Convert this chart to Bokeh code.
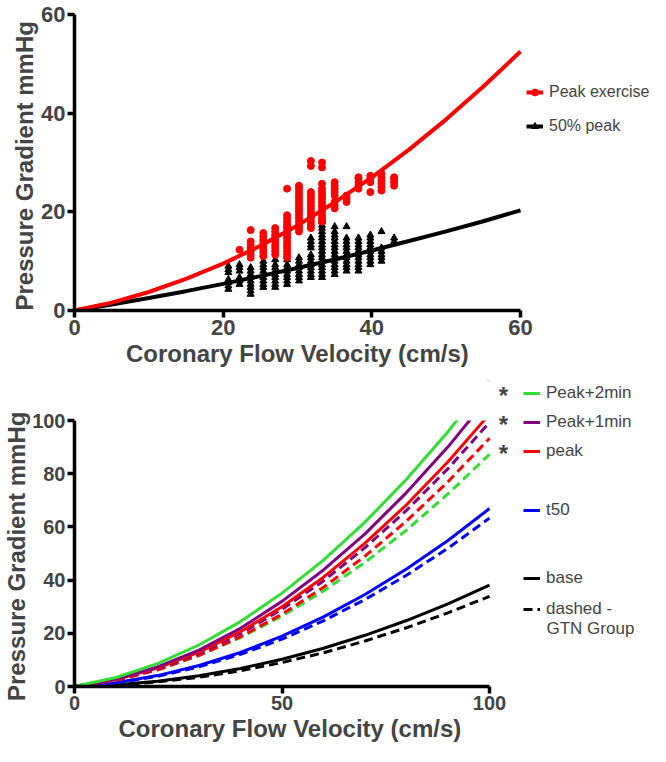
from bokeh.plotting import figure
from bokeh.layouts import column
from bokeh.models import Range1d, Legend, LegendItem, Label, Title, BoxAnnotation
from bokeh.embed import file_html
from bokeh.resources import INLINE

# ---------------- top panel data ----------------
flow_cols = [20.7, 22.2, 23.7, 25.4, 27.0, 28.6, 30.2, 31.8, 33.3, 35.0, 36.6, 38.2, 39.8, 41.3, 43.0]
peak_pg = [
    [],
    [12.3],
    [10.7, 11.3, 12.0, 12.7, 13.3, 14.0, 16.3],
    [11.0, 11.7, 12.3, 13.0, 13.7, 14.3, 15.0, 15.7],
    [11.3, 12.0, 12.7, 13.3, 14.0, 14.7, 15.3, 16.0, 16.7],
    [10.7, 11.3, 12.0, 12.7, 13.3, 14.0, 14.7, 15.3, 16.0, 16.7, 17.3, 18.0, 18.7, 19.3, 24.7],
    [16.0, 16.7, 17.3, 18.0, 18.7, 19.3, 20.0, 20.7, 21.3, 22.0, 22.7, 23.3, 24.0, 24.7, 25.3],
    [16.7, 17.3, 18.0, 18.7, 19.3, 20.0, 20.7, 21.3, 22.0, 22.7, 23.3, 24.0, 29.3, 30.3],
    [18.0, 18.7, 19.3, 20.0, 20.7, 21.3, 22.0, 22.7, 23.3, 24.0, 24.7, 25.7, 29.0, 30.0],
    [20.7, 21.3, 22.0, 23.3, 24.0, 24.7, 25.3, 26.0],
    [22.0, 22.7, 23.3],
    [24.7, 25.3, 26.0, 26.7, 27.0],
    [24.0, 26.0, 26.7, 27.3],
    [24.3, 25.0, 25.7, 26.3, 27.0, 27.7],
    [25.3, 26.0, 26.7, 27.0],
]
half_pg = [
    [4.3, 5.0, 5.7, 6.3, 7.7, 8.3, 9.0],
    [5.3, 6.0, 6.7, 8.0, 8.7, 9.3],
    [3.3, 4.0, 4.7, 5.3, 6.0, 6.7, 7.3, 8.0, 8.7],
    [4.7, 5.3, 6.0, 6.7, 7.3, 8.0, 8.7, 9.3, 10.0],
    [4.7, 5.3, 6.0, 6.7, 7.3, 8.0, 8.7, 9.3, 10.3],
    [5.3, 6.0, 6.7, 7.3, 8.0, 8.7, 9.3, 10.3],
    [6.0, 6.7, 7.3, 8.0, 8.7, 9.3, 10.0, 10.7],
    [6.7, 7.3, 8.0, 8.7, 9.3, 10.0, 10.7, 11.3, 12.7, 13.3, 14.0, 14.7],
    [6.7, 7.3, 8.0, 8.7, 9.3, 10.0, 10.7, 11.3, 12.0, 12.7, 13.3, 14.0, 14.7, 15.3, 16.0, 16.7, 17.3, 18.0, 18.7],
    [7.3, 8.0, 8.7, 9.3, 10.0, 10.7, 11.3, 12.0, 12.7, 13.3, 14.0, 14.7, 15.3, 16.0, 17.0],
    [8.0, 8.7, 9.3, 10.0, 10.7, 11.3, 12.0, 12.7, 13.3, 14.0, 14.7, 17.0],
    [8.0, 8.7, 9.3, 10.0, 10.7, 11.3, 12.0, 12.7, 13.3, 14.0, 14.7],
    [9.3, 10.0, 10.7, 11.3, 12.0, 12.7, 13.3, 14.0, 14.7, 15.3],
    [10.0, 10.7, 11.3, 12.0, 12.7, 16.0],
    [14.0, 14.7],
]
fit_v = [0, 5, 10, 15, 20, 25, 30, 35, 40, 45, 50, 55, 60]
fit_peak = [0, 1.6, 3.75, 6.4, 9.5, 13.1, 17.25, 21.9, 27.0, 32.6, 38.75, 45.4, 52.5]
fit_half = [0, 1.22, 2.53, 3.92, 5.4, 6.96, 8.61, 10.34, 12.16, 14.1, 16.05, 18.1, 20.3]
top_ticks = [0, 20, 40, 60]

# ---------------- bottom panel data ----------------
model_v = [0, 10, 20, 30, 40, 50, 60, 70, 80, 90, 100]
peak2_ctrl = [0, 3.38, 8.58, 15.6, 24.4, 35.1, 47.5, 61.8, 77.9, 95.8, 115.6]
peak2_gtn = [0, 2.5, 6.5, 11.7, 18.4, 26.5, 35.9, 46.7, 58.8, 72.4, 87.3]
peak1_ctrl = [0, 2.77, 7.34, 13.7, 21.9, 32.0, 43.8, 57.4, 72.9, 90.1, 109.2]
peak1_gtn = [0, 2.5, 6.6, 12.4, 19.9, 29.0, 39.7, 52.2, 66.2, 81.9, 99.3]
peak_ctrl = [0, 2.6, 6.9, 12.9, 20.6, 30.0, 41.1, 53.9, 68.3, 84.5, 102.4]
peak_gtn = [0, 2.3, 6.2, 11.7, 18.7, 27.2, 37.3, 49.0, 62.2, 77.0, 93.3]
t50_ctrl = [0, 1.45, 4.1, 7.9, 12.8, 18.9, 26.2, 34.6, 44.2, 54.9, 66.9]
t50_gtn = [0, 1.35, 3.8, 7.4, 12.1, 17.8, 24.7, 32.7, 41.8, 52.0, 63.3]
base_ctrl = [0, 0.65, 2.0, 4.05, 6.8, 10.25, 14.4, 19.25, 24.8, 31.05, 38.1]
base_gtn = [0, 0.52, 1.7, 3.5, 5.9, 9.0, 12.7, 17.1, 22.1, 27.7, 33.9]
bottom_xticks = [0, 50, 100]
bottom_yticks = [0, 20, 40, 60, 80, 100]

FONT = "Liberation Sans"
GREEN = "#33dd33"
PURPLE = "#800080"
RED = "#ff0000"
BLUE = "#0000ff"
BLACK = "#000000"
X_TITLE = "Coronary Flow Velocity (cm/s)"
Y_TITLE = "Pressure Gradient  mmHg"
X_TITLE_PX = 343   # approximate rendered length of the axis titles
Y_TITLE_PX = 295


def style_axes(p, tick_size):
    for ax in (p.xaxis[0], p.yaxis[0]):
        ax.axis_line_width = 3.5
        ax.major_tick_line_width = 3.5
        ax.major_tick_out = 7
        ax.major_tick_in = 0
        ax.minor_tick_line_color = None
        ax.major_label_text_font = FONT
        ax.major_label_text_font_style = "bold"
        ax.major_label_text_font_size = tick_size
        ax.major_label_standoff = 2
        ax.axis_label_text_font = FONT
        ax.axis_label_text_font_style = "bold"
        ax.axis_label_text_font_size = "24px"
        ax.axis_label_standoff = 0
    p.xgrid.visible = False
    p.ygrid.visible = False
    p.outline_line_color = None


def make_title(text, offset):
    return Title(text=text, align="left", offset=offset, standoff=0,
                 text_font=FONT, text_font_size="24px", text_font_style="bold")


def make_legend(items, loc, spacing, size="17px"):
    return Legend(items=items, location=loc, spacing=spacing, padding=0, margin=0,
                  border_line_color=None, background_fill_alpha=0,
                  label_text_font=FONT, label_text_font_size=size,
                  glyph_width=17, glyph_height=20, label_height=20, label_standoff=6)


# ---------------- top figure ----------------
t_axis_px, t_frame_w = 446, 586
p1 = figure(frame_width=t_frame_w, frame_height=296,
            x_range=Range1d(0, 60 * t_frame_w / t_axis_px), y_range=Range1d(0, 60),
            output_backend="svg", toolbar_location=None,
            min_border_left=62, min_border_top=14, min_border_bottom=64, min_border_right=0)
style_axes(p1, "22px")
p1.xaxis.ticker = top_ticks
p1.yaxis.ticker = top_ticks
p1.xaxis.bounds = (0, 60)
p1.yaxis.axis_label = Y_TITLE
p1.add_layout(make_title(X_TITLE, (t_axis_px - X_TITLE_PX) / 2), "below")

hx = [v for v, col in zip(flow_cols, half_pg) for _ in col]
hy = [y for col in half_pg for y in col]
px_ = [v for v, col in zip(flow_cols, peak_pg) for _ in col]
py_ = [y for col in peak_pg for y in col]

s_half = p1.scatter(hx, hy, marker="triangle", size=7, color=BLACK)
s_peak = p1.scatter(px_, py_, marker="circle", size=7, color=RED)
l_half = p1.line(fit_v, fit_half, line_width=4, color=BLACK)
l_peak = p1.line(fit_v, fit_peak, line_width=4, color=RED)

p1.add_layout(make_legend([LegendItem(label="Peak exercise", renderers=[l_peak, s_peak]),
                           LegendItem(label="50% peak", renderers=[l_half, s_half])],
                          (460, 174), 14, "16px"))

# ---------------- bottom figure ----------------
b_axis_px, b_frame_w = 415, 578
b_plot_px, b_frame_h = 266, 306
p2 = figure(frame_width=b_frame_w, frame_height=b_frame_h,
            x_range=Range1d(0, 100 * b_frame_w / b_axis_px),
            y_range=Range1d(0, 100 * b_frame_h / b_plot_px),
            output_backend="svg", toolbar_location=None,
            min_border_left=70, min_border_top=6, min_border_bottom=62, min_border_right=0)
style_axes(p2, "20px")
p2.xaxis.ticker = bottom_xticks
p2.yaxis.ticker = bottom_yticks
p2.xaxis.bounds = (0, 100)
p2.yaxis.bounds = (0, 100)
p2.add_layout(make_title(X_TITLE, (b_axis_px - X_TITLE_PX) / 2 + 8), "below")
p2.add_layout(make_title(Y_TITLE, (b_plot_px - Y_TITLE_PX) / 2), "left")

DASH = "9 5"
lw = 3
r_base_g = p2.line(model_v, base_gtn, line_width=lw, color=BLACK, line_dash=DASH)
r_base = p2.line(model_v, base_ctrl, line_width=lw, color=BLACK)
r_t50_g = p2.line(model_v, t50_gtn, line_width=lw, color=BLUE, line_dash=DASH)
r_t50 = p2.line(model_v, t50_ctrl, line_width=lw, color=BLUE)
r_p2_g = p2.line(model_v, peak2_gtn, line_width=lw, color=GREEN, line_dash=DASH)
r_pk_g = p2.line(model_v, peak_gtn, line_width=lw, color=RED, line_dash=DASH)
r_p1_g = p2.line(model_v, peak1_gtn, line_width=lw, color=PURPLE, line_dash=DASH)
r_pk = p2.line(model_v, peak_ctrl, line_width=lw, color=RED)
r_p1 = p2.line(model_v, peak1_ctrl, line_width=lw, color=PURPLE)
r_p2 = p2.line(model_v, peak2_ctrl, line_width=lw, color=GREEN)

# curves end at the top of the 0-100 axis: mask the legend strip above it
p2.add_layout(BoxAnnotation(bottom=100, fill_color="white", fill_alpha=1, line_color=None))

p2.add_layout(make_legend([LegendItem(label="Peak+2min", renderers=[r_p2]),
                           LegendItem(label="Peak+1min", renderers=[r_p1]),
                           LegendItem(label="peak", renderers=[r_pk])], (449, 225), 9))
p2.add_layout(make_legend([LegendItem(label="t50", renderers=[r_t50])], (449, 166), 0))
p2.add_layout(make_legend([LegendItem(label="base", renderers=[r_base]),
                           LegendItem(label="dashed -", renderers=[r_base_g])], (449, 67), 11))
p2.add_layout(Label(x=472, y=58, x_units="screen", y_units="screen", text="GTN Group",
                    text_font=FONT, text_font_size="17px", text_baseline="middle"))
for yy in (291, 262, 233):
    p2.add_layout(Label(x=429, y=yy, x_units="screen", y_units="screen", text="*",
                        text_font=FONT, text_font_size="24px", text_font_style="bold",
                        text_align="center", text_baseline="middle"))

layout = column(p1, p2)
open("out.html", "w").write(file_html(layout, INLINE))
